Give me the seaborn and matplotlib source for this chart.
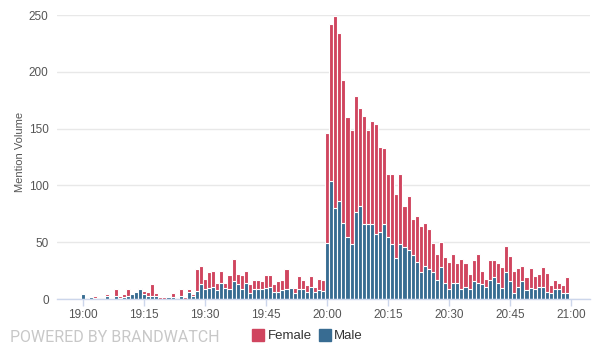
import matplotlib
matplotlib.use("Agg")
import matplotlib.pyplot as plt
from matplotlib.lines import Line2D
import pandas as pd
import seaborn as sns

# per-minute mention counts, 19:00 .. 20:59
total = [
    5, 0, 2, 3, 0, 0, 4, 1, 9, 3, 4, 9, 4, 6, 10, 7, 6, 13, 5, 2,
    2, 2, 5, 0, 9, 2, 9, 4, 26, 29, 18, 24, 25, 14, 25, 14, 21, 35, 22, 21,
    25, 13, 17, 17, 16, 21, 21, 13, 16, 17, 26, 11, 10, 20, 17, 12, 20, 11, 18, 17,
    146, 242, 249, 234, 193, 160, 149, 179, 168, 161, 149, 157, 154, 134, 133, 110, 110, 92, 110, 82,
    91, 70, 73, 64, 67, 62, 49, 40, 50, 37, 33, 40, 32, 35, 32, 22, 34, 40, 25, 18,
    34, 34, 32, 28, 47, 38, 25, 27, 29, 19, 27, 20, 22, 28, 23, 12, 17, 14, 12, 19,
]
male = [
    4, 0, 2, 1, 0, 0, 3, 1, 3, 1, 2, 3, 4, 6, 9, 4, 3, 3, 3, 0,
    0, 2, 2, 0, 3, 0, 6, 3, 7, 13, 9, 10, 11, 8, 14, 10, 9, 16, 13, 9,
    14, 5, 9, 9, 9, 10, 11, 6, 6, 8, 9, 10, 5, 9, 9, 6, 11, 6, 8, 7,
    49, 104, 80, 86, 67, 55, 48, 77, 82, 66, 66, 66, 57, 59, 66, 55, 48, 36, 48, 46,
    43, 39, 33, 24, 29, 26, 24, 17, 28, 14, 9, 14, 14, 9, 11, 9, 16, 14, 13, 11,
    17, 19, 14, 10, 24, 16, 5, 11, 16, 8, 10, 9, 11, 11, 6, 5, 9, 9, 5, 5,
]
minutes = [f"{19 + i // 60}:{i % 60:02d}" for i in range(len(total))]
tick_labels = ["19:00", "19:15", "19:30", "19:45", "20:00", "20:15", "20:30", "20:45", "21:00"]

female_color = "#d0455f"
male_color = "#386c92"

df = pd.DataFrame({"minute": minutes, "total": total, "male": male})
df["female"] = df["total"] - df["male"]

sns.set_theme(style="white")
plt.rcParams["font.family"] = ["Liberation Sans", "DejaVu Sans"]

fig = plt.figure(figsize=(6.01, 3.52), dpi=100)
ax = fig.add_axes([57 / 601, 1 - 299 / 352, 533 / 601, 284 / 352])

# stacked look: total drawn in female colour, male drawn over the bottom part
sns.barplot(data=df, x="minute", y="total", color=female_color, saturation=1,
            width=1.0, edgecolor="white", linewidth=0.8, errorbar=None, ax=ax)
sns.barplot(data=df, x="minute", y="male", color=male_color, saturation=1,
            width=1.0, edgecolor="white", linewidth=0.8, errorbar=None, ax=ax)

ax.set_xlim(-6.4, 124.6)
ax.set_ylim(0, 250)
ax.set_xticks(range(0, 121, 15))
ax.set_xticklabels(tick_labels)
ax.set_yticks(range(0, 251, 50))
ax.set_xlabel("")
ax.set_ylabel("")

ax.set_axisbelow(True)
ax.yaxis.grid(True, color="#e8e8e8", linewidth=1)
ax.xaxis.grid(False)
for side in ["top", "right", "left"]:
    ax.spines[side].set_visible(False)
ax.spines["bottom"].set_color("#ccd6eb")
ax.spines["bottom"].set_linewidth(1)
ax.tick_params(axis="x", colors="#ccd6eb", length=5, width=1, pad=2,
               labelsize=8.5, labelcolor="#555555", direction="out", bottom=True)
ax.tick_params(axis="y", length=0, pad=6, labelsize=8.5, labelcolor="#555555")

fig.text(20 / 601, 1 - 152 / 352, "Mention Volume", rotation=90, ha="center",
         va="center", fontsize=8, color="#555555")

fig.text(10 / 601, 1 - 337 / 352, "POWERED BY BRANDWATCH", ha="left", va="center",
         fontsize=11.5, color="#c8c8c8", family=["Roboto", "DejaVu Sans"])

handles = [
    Line2D([], [], marker="s", linestyle="", markersize=8, color=female_color),
    Line2D([], [], marker="s", linestyle="", markersize=8, color=male_color),
]
fig.legend(handles, ["Female", "Male"], loc="center", bbox_to_anchor=(308 / 601, 1 - 336 / 352),
           ncol=2, frameon=False, fontsize=9.5, handletextpad=0.3, columnspacing=0.6,
           handlelength=0.8, labelcolor="#333333")

fig.savefig("out.png", dpi=100)
